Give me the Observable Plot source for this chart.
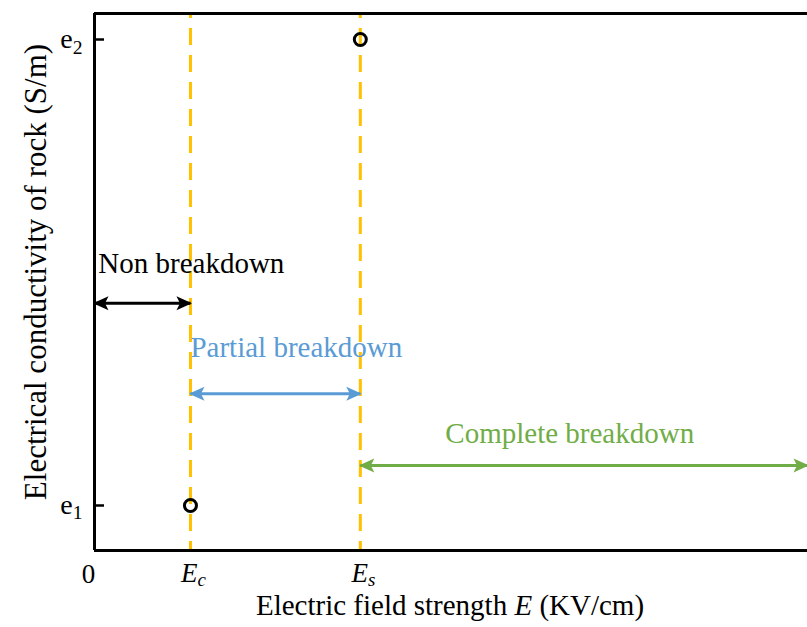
<!DOCTYPE html>
<html><head><meta charset="utf-8">
<script src="https://cdn.jsdelivr.net/npm/d3@7"></script>
<script src="https://cdn.jsdelivr.net/npm/@observablehq/plot@0.6"></script>
<style>html,body{margin:0;padding:0;background:#fff;} #chart{width:807px;height:627px;overflow:hidden;}</style>
</head><body><div id="chart"></div>
<script>
// ---- data ----
const fieldTickValues = [0, 1, 2.77];
const fieldTickLabels = ["0", "{i:E}{is:c}", "{i:E}{is:s}"];
const condTickValues = [1, 2];
const condTickLabels = ["e{s:1}", "e{s:2}"];
const thresholdValues = [1, 2.77];          // E_c, E_s
const pointField = [1, 2.77];
const pointCond = [1, 2];
const regimeNames = ["Non breakdown", "Partial breakdown", "Complete breakdown"];
const regimeFrom = [0, 1, 2.77];
const regimeTo = [1, 2.77, 7.43];
const xLabel = "Electric field strength {i:E} (KV/cm)";
const yLabel = "Electrical conductivity of rock (S/m)";

// ---- layout / style ----
const xDomain = [0, 7.43];
const yDomain = [0.9034, 2.0558];
const regimeColors = ["#000000", "#5b9bd5", "#70ad47"];
const arrowLevels = [1.434, 1.240, 1.086];
const labelX = [0.04, 1.0, 3.656];
const labelY = [1.498, 1.3176, 1.135];
const serif = "'Liberation Serif','Times New Roman',Times,serif";

const regimes = regimeNames.map((name, i) => ({name, from: regimeFrom[i], to: regimeTo[i], level: arrowLevels[i], lx: labelX[i], ly: labelY[i], color: regimeColors[i]}));
const xticks = fieldTickValues.map((v, i) => ({v, label: fieldTickLabels[i]}));
const yticks = condTickValues.map((v, i) => ({v, label: condTickLabels[i]}));
const points = pointField.map((x, i) => ({x, y: pointCond[i]}));

const marks = [
  Plot.ruleX(thresholdValues, {stroke: "#ffc000", strokeWidth: 3, strokeDasharray: "17,10", strokeDashoffset: 12}),
  Plot.ruleX([xDomain[0]], {stroke: "black", strokeWidth: 3}),
  Plot.ruleY(yDomain, {stroke: "black", strokeWidth: 3}),
  Plot.ruleY(condTickValues, {x1: 0, x2: 10 / 96, stroke: "black", strokeWidth: 2.5}),
  Plot.dot(points, {x: "x", y: "y", r: 6, stroke: "black", strokeWidth: 3, fill: "none"})
];
regimes.forEach(r => {
  marks.push(Plot.link([r], {x1: "from", x2: "to", y1: "level", y2: "level", stroke: r.color, strokeWidth: 3, markerStart: "arrow", markerEnd: "arrow"}));
  marks.push(Plot.text([r], {x: "lx", y: "ly", text: "name", fill: r.color, fontSize: 29, textAnchor: "start", lineAnchor: "bottom"}));
});
marks.push(
  Plot.text(xticks.slice(0, 1), {x: "v", text: "label", frameAnchor: "bottom", textAnchor: "middle", dy: 32, dx: -6, lineAnchor: "bottom", fontSize: 27}),
  Plot.text(xticks.slice(1), {x: "v", text: "label", frameAnchor: "bottom", textAnchor: "middle", dy: 31, dx: 3, lineAnchor: "bottom", fontSize: 27}),
  Plot.text(yticks, {y: "v", text: "label", frameAnchor: "left", textAnchor: "end", lineAnchor: "middle", dx: -12, fontSize: 28}),
  Plot.text([xLabel], {text: d => d, frameAnchor: "bottom", textAnchor: "middle", dy: 64, dx: -1, lineAnchor: "bottom", fontSize: 29}),
  Plot.text([yLabel], {text: d => d, frameAnchor: "left", textAnchor: "middle", rotate: -90, dx: -49, dy: -10, lineAnchor: "bottom", fontSize: 31})
);

const chart = Plot.plot({
  width: 807, height: 627,
  marginTop: 13, marginBottom: 77, marginLeft: 94, marginRight: 0,
  x: {domain: xDomain, axis: null},
  y: {domain: yDomain, axis: null},
  style: {fontFamily: serif, background: "white", color: "black", overflow: "visible"},
  marks
});
document.getElementById("chart").appendChild(chart);

// filled arrowheads, pointing outward at both ends
d3.select(chart).selectAll("marker").each(function () {
  const m = d3.select(this);
  const c = m.attr("stroke");
  m.attr("fill", c).attr("stroke", "none").attr("overflow", "visible")
   .attr("orient", "auto-start-reverse")
   .attr("markerUnits", "userSpaceOnUse")
   .attr("viewBox", "-10 -10 20 20")
   .attr("markerWidth", 20).attr("markerHeight", 20)
   .attr("refX", 0).attr("refY", 0);
  m.select("path").attr("d", "M-14,-7L1.5,0L-14,7L-10.5,0Z");
});

// rich text: {i:..} italic, {s:..} subscript, {is:..} italic subscript
d3.select(chart).selectAll("text").each(function () {
  const t = this.textContent;
  if (!/\{(i|s|is):/.test(t)) return;
  const fs = parseFloat(getComputedStyle(this).fontSize) || 27;
  const el = d3.select(this);
  el.text(null);
  const re = /\{(i|s|is):([^}]*)\}/g;
  let last = 0, m, shifted = false;
  const drop = fs * 0.18;
  const add = (str, kind) => {
    if (!str) return;
    const ts = el.append("tspan").text(str);
    const sub = kind === "s" || kind === "is";
    if (kind === "i" || kind === "is") ts.attr("font-style", "italic");
    if (sub) {
      ts.attr("font-size", fs * 0.7);
      if (!shifted) { ts.attr("dy", drop); shifted = true; }
    } else if (shifted) { ts.attr("dy", -drop); shifted = false; }
  };
  while ((m = re.exec(t))) {
    add(t.slice(last, m.index), "n");
    add(m[2], m[1]);
    last = re.lastIndex;
  }
  add(t.slice(last), "n");
});
</script>
</body></html>
